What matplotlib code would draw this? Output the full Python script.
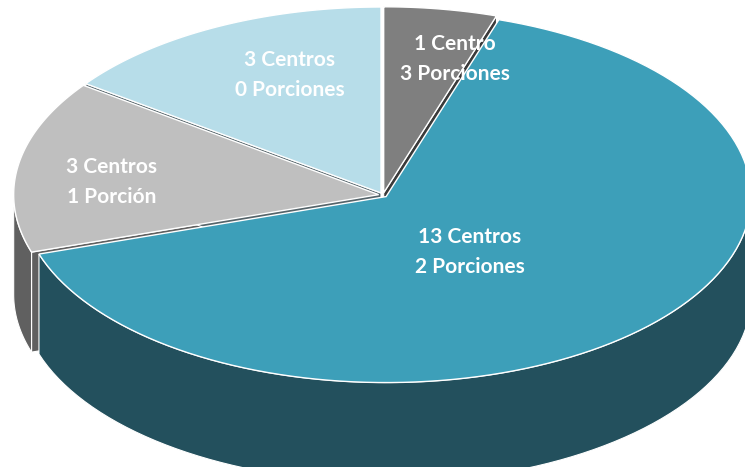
"""
Gráfico circular 3D: centros por número de porciones.
"""

import matplotlib
matplotlib.use('Agg')
import matplotlib.pyplot as plt
from matplotlib.patches import Polygon
import numpy as np

# datos
centros = [1, 13, 3, 3]
etiquetas = ["1 Centro\n3 Porciones", "13 Centros\n2 Porciones",
             "3 Centros\n1 Porción", "3 Centros\n0 Porciones"]
color_sup = ['#7f7f7f', '#3d9fb9', '#bfbfbf', '#b7dde9']
color_lat = ['#3a3a3a', '#23505d', '#606060', '#55646a']
explode = [0.012, 0.012, 0.012, 0.012]

# geometría de la elipse (en píxeles)
cx, cy = 383, 195
rx, ry = 365, 186
prof = 100
pos_texto = [(455, 59), (470, 252), (112, 182), (290, 75)]


def punto(ang, r=1.0, off=(0, 0), dz=0):
    a = np.radians(ang)
    return (cx + off[0] + rx * r * np.cos(a), cy + off[1] - ry * r * np.sin(a) + dz)


fig = plt.figure(figsize=(7.45, 4.67), dpi=100)
ax = fig.add_axes([0, 0, 1, 1])
ax.set_xlim(0, 745)
ax.set_ylim(467, 0)
ax.axis('off')

total = sum(centros)
inicio = 90.0
rebanadas = []
for i, v in enumerate(centros):
    t1 = inicio
    t2 = inicio - 360.0 * v / total
    inicio = t2
    mid = np.radians((t1 + t2) / 2)
    off = (explode[i] * rx * np.cos(mid), -explode[i] * ry * np.sin(mid))
    rebanadas.append((t2, t1, off))

caras, paredes, tapas = [], [], []
for i, (t2, t1, off) in enumerate(rebanadas):
    c = punto(0, 0, off)
    # caras de corte visibles
    for a, n in ((t1, t1 + 90), (t2, t2 - 90)):
        if np.sin(np.radians(n)) < -1e-6:
            p = punto(a, 1, off)
            quad = [c, p, (p[0], p[1] + prof), (c[0], c[1] + prof)]
            caras.append(Polygon(quad, closed=True, fc=color_lat[i], ec='white', lw=0.8))
    # pared exterior (mitad frontal)
    for k in range(-1, 2):
        lo = max(t2, 180 + 360 * k)
        hi = min(t1, 360 + 360 * k)
        if hi > lo:
            angs = np.linspace(lo, hi, 80)
            sup = [punto(a, 1, off) for a in angs]
            inf = [(x, y + prof) for x, y in sup[::-1]]
            paredes.append(Polygon(sup + inf, closed=True, fc=color_lat[i], ec='white', lw=0.8))
    angs = np.linspace(t2, t1, 120)
    tapa = [c] + [punto(a, 1, off) for a in angs]
    tapas.append(Polygon(tapa, closed=True, fc=color_sup[i], ec='white', lw=1.0))

for p in caras + paredes + tapas:
    ax.add_patch(p)

for txt, (x, y) in zip(etiquetas, pos_texto):
    ax.text(x, y, txt, ha='center', va='center', color='white', fontsize=15,
            fontweight='bold', family='Lato', linespacing=1.65)

fig.savefig('out.png', dpi=100)
plt.close(fig)
